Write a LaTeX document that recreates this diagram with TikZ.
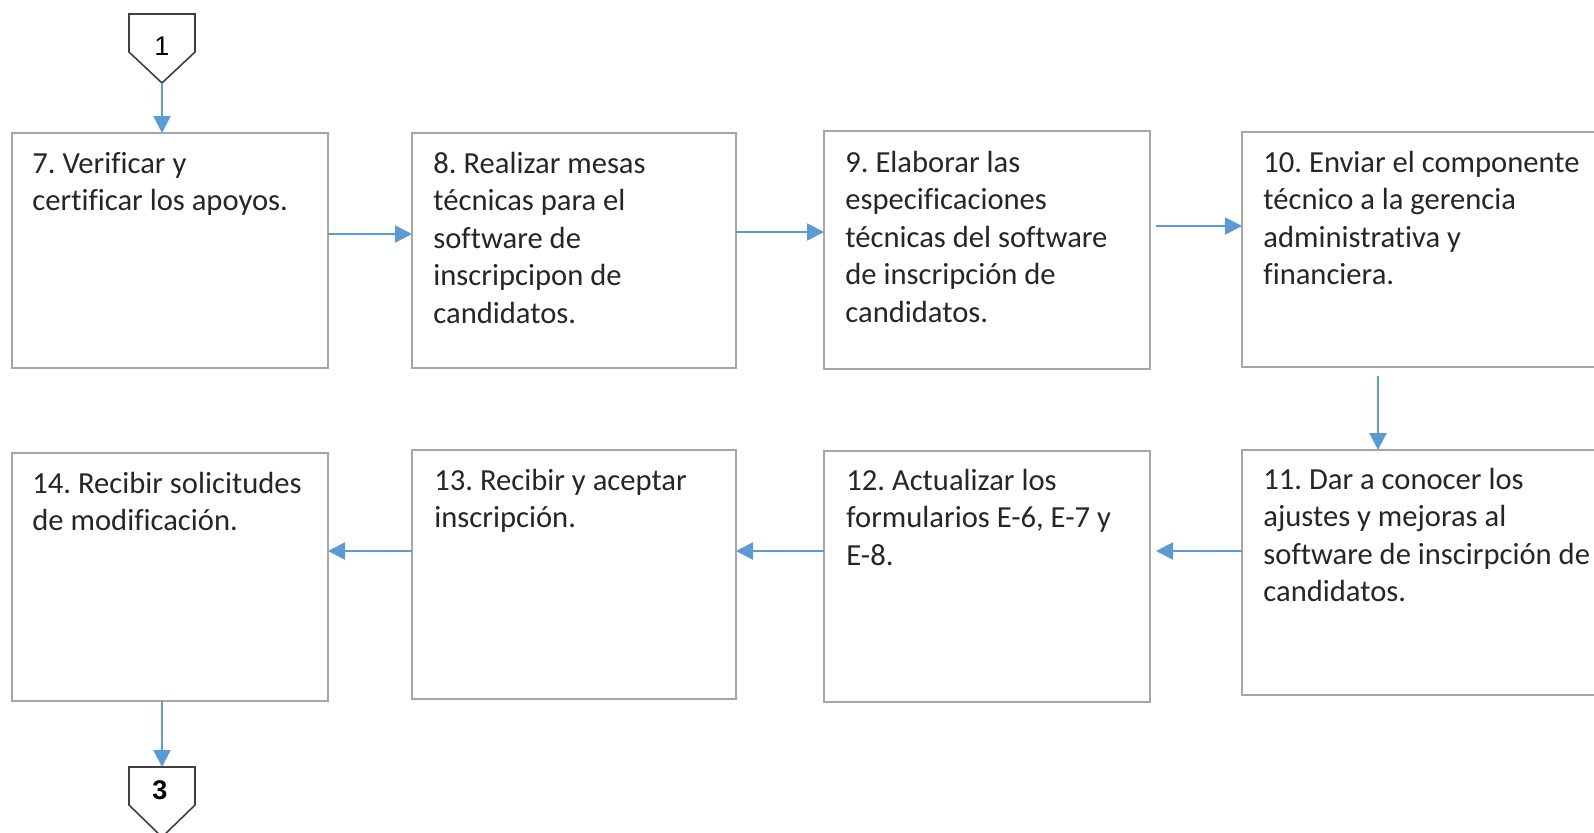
\documentclass[tikz,border=0pt]{standalone}
\usepackage{fontspec}
\setmainfont{Carlito}[Ligatures={NoCommon,NoRare}]
\newfontfamily\arialf{Liberation Sans}
\usetikzlibrary{arrows.meta,calc}
\frenchspacing
\definecolor{boxgray}{HTML}{A6A6A6}
\definecolor{arrblue}{HTML}{5B9BD5}
\definecolor{txtc}{HTML}{262626}
\definecolor{offc}{HTML}{404040}
\newcommand{\topstrut}{\rule{0pt}{16pt}}
\tikzset{
  box/.style={draw=boxgray, line width=1.1pt, rectangle, inner sep=0pt, outer sep=0pt, fill=white},
  txt/.style={anchor=north west, align=left, inner sep=0pt, text=txtc, font=\frenchspacing\fontsize{15.3}{18.75}\selectfont},
  arr/.style={draw=arrblue, line width=1.1pt, -{Triangle[length=8.5pt,width=8.5pt]}},
  offpage/.style={draw=offc, line width=0.8pt, line join=miter},
  offlbl/.style={inner sep=0pt, font=\arialf\fontsize{13.5}{15}\selectfont},
}
\begin{document}
\begin{tikzpicture}[x=0.5pt,y=-0.5pt]
\clip (0,0) rectangle (1594,832);
\fill[white] (0,0) rectangle (1594,832);

% boxes
\node[box, minimum width=158pt, minimum height=117.5pt] (b7) at (170,250.5) {};
\node[box, minimum width=162pt, minimum height=117.5pt] (b8) at (574,250.5) {};
\node[box, minimum width=163pt, minimum height=119pt] (b9) at (987,250) {};
\node[box, minimum width=179pt, minimum height=117.5pt] (b10) at (1421,249.25) {};
\node[box, minimum width=158pt, minimum height=124pt] (b14) at (170,577) {};
\node[box, minimum width=162pt, minimum height=124.5pt] (b13) at (574,574.5) {};
\node[box, minimum width=163pt, minimum height=125.5pt] (b12) at (987,576.5) {};
\node[box, minimum width=179pt, minimum height=122.5pt] (b11) at (1421,572.5) {};

% texts (first baseline 40px below box top: 32px strut + 8px)
\node[txt] (t7) at ([shift={(20,8)}]b7.north west) {\topstrut 7. Verificar y\\certificar los apoyos.};
\node[txt] (t8) at ([shift={(21,8)}]b8.north west) {\topstrut 8. Realizar mesas\\técnicas para el\\software de\\inscripcipon de\\candidatos.};
\node[txt] (t9) at ([shift={(21,9)}]b9.north west) {\topstrut 9. Elaborar las\\especificaciones\\técnicas del software\\de inscripción de\\candidatos.};
\node[txt] (t10) at ([shift={(21,8)}]b10.north west) {\topstrut 10. Enviar el componente\\técnico a la gerencia\\administrativa y\\financiera.};
\node[txt] (t11) at ([shift={(21,7)}]b11.north west) {\topstrut 11. Dar a conocer los\\ajustes y mejoras al\\software de inscirpción de\\candidatos.};
\node[txt] (t12) at ([shift={(22,7)}]b12.north west) {\topstrut 12. Actualizar los\\formularios E-6, E-7 y\\E-8.};
\node[txt] (t13) at ([shift={(22,8)}]b13.north west) {\topstrut 13. Recibir y aceptar\\inscripción.};
\node[txt] (t14) at ([shift={(20,8)}]b14.north west) {\topstrut 14. Recibir solicitudes\\de modificación.};

% off-page connectors
\coordinate (c1tip) at (162,83);
\draw[offpage] (129,14) -- (195,14) -- (195,52) -- (c1tip) -- (129,52) -- cycle;
\node[offlbl] (l1) at (162,46) {1};
\coordinate (c3top) at (162,767);
\draw[offpage] (129,767) -- (195,767) -- (195,805) -- (162,837) -- (129,805) -- cycle;
\node[offlbl, font=\arialf\bfseries\fontsize{13.5}{15}\selectfont] (l3) at (160,790) {3};

% row coordinates
\coordinate (y78) at (0,234);
\coordinate (y89) at (0,232);
\coordinate (y910) at (0,226);
\coordinate (yr2) at (0,551);
\coordinate (x1011) at (1378,0);

% connectors
\draw[arr] (c1tip) -- (c1tip |- b7.north);
\draw[arr] (b7.east |- y78) -- (b8.west |- y78);
\draw[arr] (b8.east |- y89) -- (b9.west |- y89);
\draw[arr] ([xshift=3pt]b9.east |- y910) -- (b10.west |- y910);
\draw[arr] ([yshift=-4.5pt]b10.south -| x1011) -- (b11.north -| x1011);
\draw[arr] (b11.west |- yr2) -- ([xshift=3pt]b12.east |- yr2);
\draw[arr] (b12.west |- yr2) -- (b13.east |- yr2);
\draw[arr] (b13.west |- yr2) -- (b14.east |- yr2);
\draw[arr] (b14.south -| c3top) -- (c3top);
\end{tikzpicture}
\end{document}
